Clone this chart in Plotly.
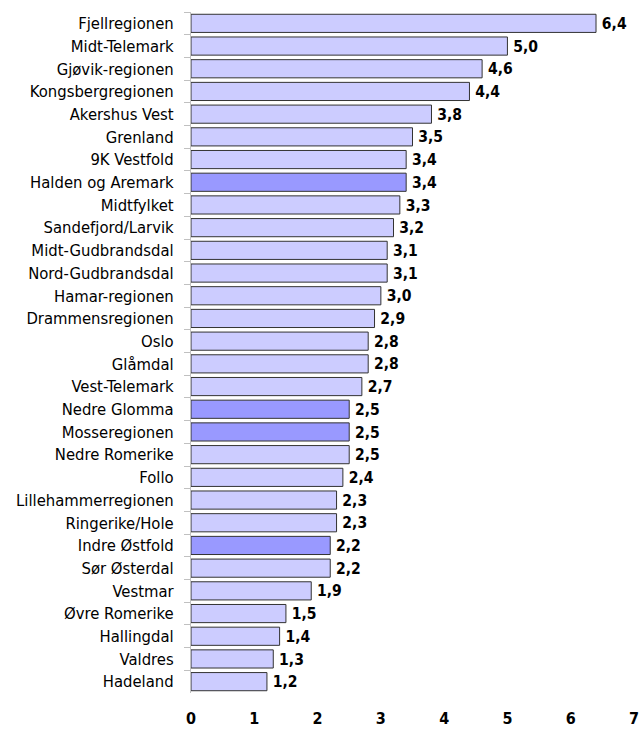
import plotly.graph_objects as go

regions = ["Fjellregionen", "Midt-Telemark", "Gjøvik-regionen", "Kongsbergregionen",
           "Akershus Vest", "Grenland", "9K Vestfold", "Halden og Aremark", "Midtfylket",
           "Sandefjord/Larvik", "Midt-Gudbrandsdal", "Nord-Gudbrandsdal", "Hamar-regionen",
           "Drammensregionen", "Oslo", "Glåmdal", "Vest-Telemark", "Nedre Glomma",
           "Mosseregionen", "Nedre Romerike", "Follo", "Lillehammerregionen",
           "Ringerike/Hole", "Indre Østfold", "Sør Østerdal", "Vestmar", "Øvre Romerike",
           "Hallingdal", "Valdres", "Hadeland"]
values = [6.4, 5.0, 4.6, 4.4, 3.8, 3.5, 3.4, 3.4, 3.3, 3.2, 3.1, 3.1, 3.0, 2.9, 2.8,
          2.8, 2.7, 2.5, 2.5, 2.5, 2.4, 2.3, 2.3, 2.2, 2.2, 1.9, 1.5, 1.4, 1.3, 1.2]
highlighted = ["Halden og Aremark", "Nedre Glomma", "Mosseregionen", "Indre Østfold"]
x_ticks = [0, 1, 2, 3, 4, 5, 6, 7]

colors = ["#9999FF" if r in highlighted else "#CCCCFF" for r in regions]
labels = ["\u2009" + f"{v:.1f}".replace(".", ",") for v in values]

FONT = "DejaVu Sans Condensed"

fig = go.Figure(go.Bar(
    x=values, y=regions, orientation="h",
    marker=dict(color=colors, line=dict(color="#333333", width=1)),
    text=labels, textposition="outside", cliponaxis=False,
    textfont=dict(family=FONT, size=18, color="#000000", weight="bold"),
))

fig.update_layout(
    width=643, height=729,
    margin=dict(l=191, r=9, t=12, b=36),
    paper_bgcolor="white", plot_bgcolor="white",
    bargap=0.2, showlegend=False,
    font=dict(family=FONT, size=16.5, color="#000000"),
    xaxis=dict(range=[0, 7], tickvals=x_ticks, showgrid=False, zeroline=False,
               showline=False, ticks="", ticklabelstandoff=14, automargin=False,
               tickfont=dict(family=FONT, size=16, weight="bold")),
    yaxis=dict(autorange="reversed", showline=True, linecolor="#C0C0C0", linewidth=1,
               ticks="outside", tickson="boundaries", ticklen=6, tickcolor="#C0C0C0",
               ticklabelstandoff=13, automargin=False,
               showgrid=False, tickfont=dict(family=FONT, size=16.5)),
)

fig.write_html("out.html", config={"displayModeBar": False},
               post_script="document.body.style.margin='0';document.body.style.overflow='hidden';")
